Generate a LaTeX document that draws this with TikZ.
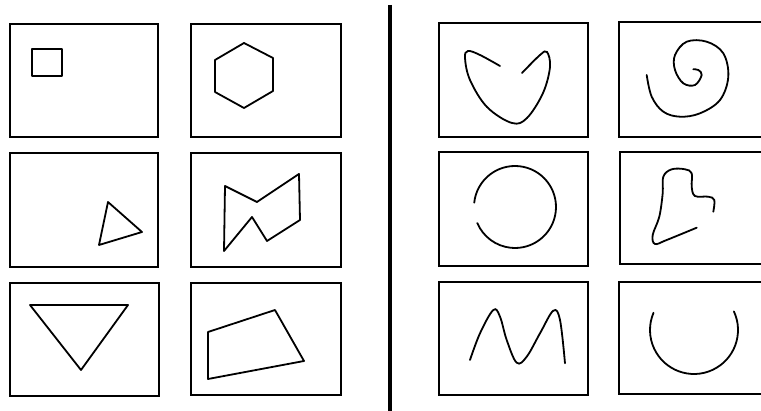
\documentclass[tikz,border=0pt]{standalone}
\begin{document}
\begin{tikzpicture}[x=1pt,y=-1pt,
  frame/.style={draw=black,line width=1.7pt},
  figline/.style={draw=black,line width=1.8pt,line join=round,line cap=round},
  curve/.style={draw=black,line width=1.8pt,line cap=round,smooth,tension=0.6}]
\clip (0,0) rectangle (761,411);
\useasboundingbox (0,0) rectangle (761,411);
\fill[white] (0,0) rectangle (761,411);
% divider
\draw[line width=4pt] (390,5) -- (390,415);
% left frames
\draw[frame] (10,24) rectangle (158,137);
\draw[frame] (191,24) rectangle (341,137);
\draw[frame] (10,153) rectangle (158,267);
\draw[frame] (191,153) rectangle (341,267);
\draw[frame] (10,283) rectangle (159,396);
\draw[frame] (191,283) rectangle (341,395);
% right frames
\draw[frame] (439,23) rectangle (588,137);
\draw[frame] (619,22) rectangle (780,137);
\draw[frame] (439,152) rectangle (588,266);
\draw[frame] (620,152) rectangle (780,264);
\draw[frame] (439,282) rectangle (588,395);
\draw[frame] (619,282) rectangle (780,394);
% square
\draw[figline] (32,49) rectangle (62,76);
% hexagon
\draw[figline] (244,43) -- (273,58) -- (273,91) -- (244,108) -- (215,92) -- (215,60) -- cycle;
% triangle
\draw[figline] (108,202) -- (142,232) -- (99,245) -- cycle;
% bowtie
\draw[figline] (225,186) -- (257,202) -- (299,174) -- (300,220) -- (267,241) -- (252,217) -- (224,251) -- cycle;
% inverted triangle
\draw[figline] (30,305) -- (128,305) -- (81,370) -- cycle;
% quadrilateral
\draw[figline] (208,332) -- (275,310) -- (304,361) -- (208,379) -- cycle;
% heart V
\draw[curve] plot coordinates {(500,66) (480,55) (468,51) (465,58) (470,80) (487,107) (512,123) (527,118) (543,93) (550,67) (547,52) (540,55) (522,73)};
% spiral
\draw[curve] plot coordinates {(646.7,75) (651.7,96.7) (663.3,111.7) (680,116.7) (700,113.3) (720,100) (728.3,76.7) (723.3,53.3) (706.7,41.7) (686.7,41.7) (675,55) (675,70) (683.3,83.3) (695,85) (701.7,75) (698.3,70) (693.3,69.3)};
% open circle
\draw[figline] (515,207) ++(186:41) arc[start angle=186,end angle=517,radius=41];
% scribble
\draw[curve] plot coordinates {(713.3,211.7) (714.3,200) (708.3,196.7) (695,196) (691.7,186.7) (691.7,173.3) (685,169.3) (671.7,169.3) (663.3,176.7) (662.7,193.3) (659.3,216.7) (652.7,235) (655,244) (666.7,240) (696.7,227.7)};
% M
\draw[curve] plot coordinates {(470,360) (480,333.3) (493.3,310) (500,316.7) (506.7,340) (516.7,362.7) (526.7,356.7) (540,333.3) (553.3,310.7) (560,320) (565,363.3)};
% U arc
\draw[figline] (694,330) ++(-25:44) arc[start angle=-25,end angle=203,radius=44];
\end{tikzpicture}
\end{document}
